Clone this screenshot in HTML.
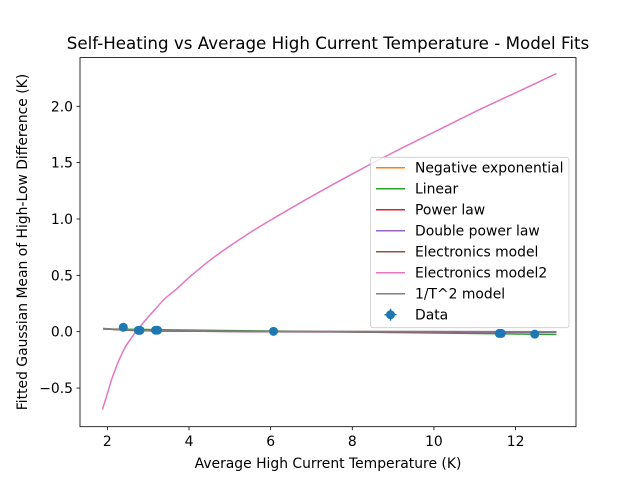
<!DOCTYPE html>
<html><head><meta charset="utf-8"><style>
body{margin:0;background:#fff;}
svg text{font-family:"DejaVu Sans","Liberation Sans",sans-serif;fill:#000;}
</style></head><body>
<svg id="chart" width="640" height="480" viewBox="0 0 640 480" xmlns="http://www.w3.org/2000/svg">
<rect width="640" height="480" fill="#fff"/>
<text x="328" y="49" font-size="16.7" text-anchor="middle">Self-Heating vs Average High Current Temperature - Model Fits</text>
<text x="328" y="468" font-size="13.9" text-anchor="middle">Average High Current Temperature (K)</text>
<text transform="translate(27,242) rotate(-90)" font-size="13.9" text-anchor="middle">Fitted Gaussian Mean of High-Low Difference (K)</text>
<g id="plot"></g>
</svg>
<script>
const xTicks=[2,4,6,8,10,12];
const yTicks=[-0.5,0.0,0.5,1.0,1.5,2.0];
const yTickLabels=["−0.5","0.0","0.5","1.0","1.5","2.0"];
const dataX=[2.39,2.76,2.8,3.18,3.23,6.07,11.6,11.65,12.47];
const dataY=[0.039,0.012,0.012,0.013,0.013,0.003,-0.015,-0.015,-0.022];
const pinkX=[1.88,2.0,2.1,2.2,2.3,2.45,2.6,2.7,3.0,3.2,3.4,3.7,4,4.5,5,5.5,6,7,8,9,10,11,12,13];
const pinkY=[-0.69,-0.55,-0.43,-0.33,-0.24,-0.13,-0.05,0.0,0.13,0.21,0.29,0.38,0.48,0.63,0.76,0.88,0.99,1.2,1.4,1.59,1.77,1.95,2.12,2.29];
const fitX=[1.9,3,6,13];
const expY=[0.025,0.008,0.001,-0.002];
const linY=[0.024,0.019,0.006,-0.025];
const powY=[0.026,0.008,0.0,-0.004];
const dpowY=[0.026,0.008,0.0,-0.006];
const elecY=[0.027,0.009,0.002,-0.001];
const invY=[0.028,0.01,0.003,0.0];
const names=["Negative exponential","Linear","Power law","Double power law","Electronics model","Electronics model2","1/T^2 model"];
const colors=["#ff7f0e","#2ca02c","#d62728","#9467bd","#8c564b","#e377c2","#7f7f7f"];
const L=80,R=576,T=57.6,B=426.7;
const xmin=1.33,xmax=13.48,ymin=-0.843,ymax=2.432;
const sx=v=>L+(v-xmin)/(xmax-xmin)*(R-L);
const sy=v=>B-(v-ymin)/(ymax-ymin)*(B-T);
const NS="http://www.w3.org/2000/svg";
const g=document.getElementById('plot');
function mk(t,a,p){const e=document.createElementNS(NS,t);for(const k in a)e.setAttribute(k,a[k]);(p||g).appendChild(e);return e;}
function smoothPath(xs,ys){
  const P=xs.map((x,i)=>[sx(x),sy(ys[i])]);
  let d='M'+P[0][0]+','+P[0][1];
  for(let i=0;i<P.length-1;i++){
    const p0=P[Math.max(0,i-1)],p1=P[i],p2=P[i+1],p3=P[Math.min(P.length-1,i+2)];
    const c1=[p1[0]+(p2[0]-p0[0])/6,p1[1]+(p2[1]-p0[1])/6];
    const c2=[p2[0]-(p3[0]-p1[0])/6,p2[1]-(p3[1]-p1[1])/6];
    d+=' C'+c1[0]+','+c1[1]+' '+c2[0]+','+c2[1]+' '+p2[0]+','+p2[1];
  }
  return d;
}
function line(xs,ys,c,name){
  const el=mk('path',{d:smoothPath(xs,ys),fill:'none',stroke:c,'stroke-width':1.5});
  
  
}
const series=[expY,linY,powY,dpowY,elecY,null,invY];
series.forEach((s,i)=>{
  if(s) line(fitX,s,colors[i],names[i].toLowerCase().replace(/[^a-z0-9]+/g,'-')+'-line');
  else line(pinkX,pinkY,colors[i],'electronics-model2-line');
});
dataX.forEach((x,i)=>{
  const c=mk('circle',{cx:sx(x),cy:sy(dataY[i]),r:4.5,fill:'#1f77b4'});
  
  
});
const fr=mk('rect',{x:L,y:T,width:R-L,height:B-T,fill:'none',stroke:'#000','stroke-width':0.8});


xTicks.forEach(v=>{
  const x=sx(v);
  const t=mk('line',{x1:x,x2:x,y1:B,y2:B+3.5,stroke:'#000','stroke-width':0.8});
  
  
  const tx=mk('text',{x:x,y:B+19.5,'font-size':13.9,'text-anchor':'middle'});
  tx.textContent=String(v);
  
  
});
yTicks.forEach((v,i)=>{
  const y=sy(v);
  const t=mk('line',{x1:L-3.5,x2:L,y1:y,y2:y,stroke:'#000','stroke-width':0.8});
  
  
  const tx=mk('text',{x:L-7,y:y+5,'font-size':13.9,'text-anchor':'end'});
  tx.textContent=yTickLabels[i];
  
  
});
const lg=mk('g',{});


mk('rect',{x:370.5,y:157.3,width:198.5,height:170.4,rx:2.5,fill:'#fff','fill-opacity':0.8,stroke:'#ccc','stroke-width':0.8},lg);
const labels=names.concat(["Data"]);
labels.forEach((n,i)=>{
  const y=167.7+i*21;
  if(i<7){
    const h=mk('line',{x1:376,x2:405,y1:y,y2:y,stroke:colors[i],'stroke-width':1.5},lg);
    
    
  } else {
    mk('line',{x1:390.5,x2:390.5,y1:y-6,y2:y+6,stroke:'#1f77b4','stroke-width':1.5},lg);
    mk('line',{x1:384.5,x2:396.5,y1:y,y2:y,stroke:'#1f77b4','stroke-width':1.5},lg);
    mk('circle',{cx:390.5,cy:y,r:4.5,fill:'#1f77b4'},lg);
  }
  const t=mk('text',{x:415,y:y+5,'font-size':13.9},lg);
  t.textContent=n;
  
  
});
</script>
</body></html>
